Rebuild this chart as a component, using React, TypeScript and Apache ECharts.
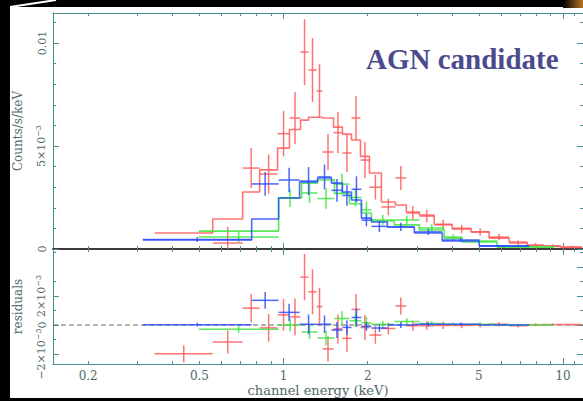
import React, { useEffect, useRef } from 'react';
import * as echarts from 'echarts';

// ---------- axis ranges (x axis is log10 of channel energy in keV) ----------
const X_MIN = -0.825;
const X_MAX = 1.0714;
const UPPER_Y_MAX = 0.01146;
const LOWER_Y_MIN = -0.00269;
const LOWER_Y_MAX = 0.00524;

// ---------- tick definitions ----------
const X_LABEL_VALUES = [0.2, 0.5, 1, 2, 5, 10];
const X_MAJOR_TICKS = [1, 10];
const X_MINOR_TICKS = [0.2, 0.3, 0.4, 0.5, 0.6, 0.7, 0.8, 0.9, 2, 3, 4, 5, 6, 7, 8, 9, 11];

const UPPER_Y_LABEL_VALUES = [0, 0.005, 0.01];
const UPPER_Y_LABEL_TEXT = ['0', '5×10{sup|−3}', '0.01'];
const UPPER_Y_MINOR = [0.001, 0.002, 0.003, 0.004, 0.006, 0.007, 0.008, 0.009, 0.011];

const LOWER_Y_LABEL_VALUES = [-0.002, 0, 0.002, 0.004];
const LOWER_Y_LABEL_TEXT = ['−2×10{sup|−3}', '0', '2×10{sup|−3}', '4×10{sup|−3}'];
const LOWER_Y_MINOR = [-0.001, 0.001, 0.003, 0.005];

// ---------- spectra: bin edges (keV), data, errors, model (counts/s/keV ×1e-3) ----------
const RED_EDGES = [0.346, 0.558, 0.714, 0.821, 0.952, 1.05, 1.15, 1.228, 1.312, 1.378, 1.509, 1.624, 1.75, 1.884, 2.028, 2.239, 2.512, 2.75, 3.06, 3.46, 4.01, 4.69, 5.44, 6.41, 7.44, 8.55, 9.84, 11.7];
const RED_DATA = [-1.2, 0.29, 3.93, 3.64, 5.6, 6.36, 9.56, 8.69, 7.67, 4.71, 5.65, 4.66, 6.36, 4.32, 3.0, 2.04, 3.45, 1.75, 1.6, 1.17, 0.97, 0.83, 0.58, 0.29, 0.19, 0.15, 0.1];
const RED_ERR = [0.59, 0.79, 0.97, 0.95, 1.1, 1.26, 1.6, 1.55, 1.3, 0.87, 1.0, 0.92, 1.07, 0.87, 0.6, 0.4, 0.58, 0.34, 0.3, 0.25, 0.2, 0.18, 0.15, 0.12, 0.1, 0.08, 0.06];
const RED_MODEL = [0.78, 1.46, 2.77, 3.84, 4.9, 5.8, 6.26, 6.4, 6.4, 6.36, 5.92, 5.58, 5.29, 4.5, 3.69, 2.28, 2.14, 1.8, 1.65, 1.2, 1.0, 0.83, 0.53, 0.34, 0.17, 0.12, 0.07];

const GREEN_EDGES = [0.497, 0.96, 1.16, 1.323, 1.521, 1.721, 1.899, 2.062, 2.491, 3.06, 3.758, 4.358, 5.81, 9.29];
const GREEN_DATA = [0.58, 2.48, 2.72, 2.45, 3.15, 2.5, 1.9, 1.41, 1.41, 1.02, 0.58, 0.39, 0.1];
const GREEN_ERR = [0.25, 0.44, 0.49, 0.5, 0.5, 0.45, 0.4, 0.25, 0.22, 0.18, 0.12, 0.08, 0.04];
const GREEN_MODEL = [0.87, 2.48, 3.2, 3.35, 2.7, 2.2, 1.75, 1.36, 1.17, 0.92, 0.53, 0.34, 0.1];

const BLUE_EDGES = [0.3136, 0.769, 0.96, 1.141, 1.323, 1.484, 1.624, 1.75, 1.899, 2.062, 2.352, 2.937, 3.698, 5.012, 7.56];
const BLUE_DATA = [0.46, 3.16, 3.35, 3.3, 3.5, 2.85, 2.6, 2.9, 1.4, 1.1, 1.07, 0.83, 0.44, 0.15];
const BLUE_ERR = [0.12, 0.58, 0.6, 0.68, 0.6, 0.55, 0.5, 0.63, 0.3, 0.27, 0.2, 0.15, 0.1, 0.05];
const BLUE_MODEL = [0.44, 1.46, 2.48, 3.25, 3.45, 3.2, 2.77, 2.38, 1.5, 1.31, 1.07, 0.78, 0.39, 0.15];

const SCALE = 1e-3;

// ---------- styling ----------
const FRAME = '#4a8f8f';
const TEXT = '#4f6868';
const FONT = "'DejaVu Serif', 'Liberation Serif', serif";
const RED = '#ff5a5a';
const GREEN = '#3ee43e';
const BLUE = '#2c4cff';

const lg = (v: number) => Math.log10(v);

function crossData(edges: number[], vals: number[], errs: number[]) {
  return vals.map((v, i) => [lg(edges[i]), lg(edges[i + 1]), v * SCALE, errs[i] * SCALE]);
}
function residualData(edges: number[], vals: number[], errs: number[], model: number[]) {
  return vals.map((v, i) => [lg(edges[i]), lg(edges[i + 1]), (v - model[i]) * SCALE, errs[i] * SCALE]);
}
function stepData(edges: number[], model: number[]) {
  const pts: number[][] = [];
  model.forEach((m, i) => {
    pts.push([lg(edges[i]), m * SCALE]);
    pts.push([lg(edges[i + 1]), m * SCALE]);
  });
  return pts;
}

function crossSeries(color: string, data: number[][], axisIndex: number, z: number) {
  return {
    type: 'custom',
    xAxisIndex: axisIndex,
    yAxisIndex: axisIndex,
    z,
    silent: true,
    data,
    encode: { x: [0, 1], y: 2 },
    renderItem: (params: any, api: any) => {
      const lo = api.value(0);
      const hi = api.value(1);
      const y = api.value(2);
      const e = api.value(3);
      const cs = params.coordSys;
      const top = cs.y;
      const bottom = cs.y + cs.height;
      const a = api.coord([lo, y]);
      const b = api.coord([hi, y]);
      const mid = (lo + hi) / 2;
      const xc = api.coord([mid, y])[0];
      const yt = api.coord([mid, y + e])[1];
      const yb = api.coord([mid, y - e])[1];
      const st = { stroke: color, lineWidth: 1.5, opacity: 0.85 };
      const children: any[] = [];
      if (a[1] >= top && a[1] <= bottom) {
        children.push({ type: 'line', shape: { x1: a[0], y1: a[1], x2: b[0], y2: b[1] }, style: st });
      }
      const y1 = Math.max(top, Math.min(bottom, yt));
      const y2 = Math.max(top, Math.min(bottom, yb));
      if (y2 - y1 > 0.5) {
        children.push({ type: 'line', shape: { x1: xc, y1, x2: xc, y2 }, style: st });
      }
      return { type: 'group', children };
    },
  };
}

function stepSeries(color: string, data: number[][], axisIndex: number, z: number) {
  return {
    type: 'line',
    xAxisIndex: axisIndex,
    yAxisIndex: axisIndex,
    z,
    silent: true,
    symbol: 'none',
    showSymbol: false,
    data,
    lineStyle: { color, width: 1.6, opacity: 0.85 },
  };
}

function makeAxis(
  gridIndex: number,
  position: string,
  min: number,
  max: number,
  ticks: number[],
  tickLen: number,
  line: any,
  label: any,
  extra: any = {}
) {
  return {
    type: 'value',
    gridIndex,
    position,
    min,
    max,
    splitLine: { show: false },
    axisLine: line ? { show: true, onZero: false, lineStyle: line } : { show: false, onZero: false },
    axisTick: { show: true, inside: true, length: tickLen, customValues: ticks, lineStyle: { color: FRAME, width: 1 } },
    axisLabel: label ? label : { show: false },
    ...extra,
  };
}

const frameLine = { color: FRAME, width: 1 };
const darkLine = { color: '#3a3a3a', width: 2 };
const supRich = { sup: { fontSize: 8, fontFamily: FONT, color: TEXT, padding: [0, 0, 6, 0] } };

function labelFormatter(values: number[], texts: string[]) {
  return (v: number) => {
    for (let i = 0; i < values.length; i++) {
      if (Math.abs(values[i] - v) < 1e-9) return texts[i];
    }
    return '';
  };
}

export default function App() {
  const ref = useRef<HTMLDivElement>(null);

  useEffect(() => {
    if (!ref.current) return;
    const chart = echarts.init(ref.current, null, { renderer: 'svg' });

    const xMajor = X_MAJOR_TICKS.map(lg);
    const xMinor = X_MINOR_TICKS.map(lg);

    const xLabel = {
      show: true,
      margin: 6,
      customValues: X_LABEL_VALUES.map(lg),
      formatter: (v: number) => String(Number(Math.pow(10, v).toPrecision(2))),
      fontFamily: FONT,
      fontSize: 12,
      color: TEXT,
    };

    const xAxis = [
      // grid 0 (spectrum)
      makeAxis(0, 'bottom', X_MIN, X_MAX, xMajor, 6, darkLine, null),
      makeAxis(0, 'bottom', X_MIN, X_MAX, xMinor, 3, null, null),
      makeAxis(0, 'top', X_MIN, X_MAX, xMajor, 6, frameLine, null),
      makeAxis(0, 'top', X_MIN, X_MAX, xMinor, 3, null, null),
      // grid 1 (residuals)
      makeAxis(1, 'bottom', X_MIN, X_MAX, xMajor, 6, frameLine, xLabel, {
        name: 'channel energy (keV)',
        nameLocation: 'middle',
        nameGap: 20,
        nameTextStyle: { fontFamily: FONT, fontSize: 13, color: TEXT },
      }),
      makeAxis(1, 'bottom', X_MIN, X_MAX, xMinor, 3, null, null),
      makeAxis(1, 'top', X_MIN, X_MAX, xMajor, 6, null, null),
      makeAxis(1, 'top', X_MIN, X_MAX, xMinor, 3, null, null),
    ];

    const upperLabel = {
      show: true,
      rotate: 90,
      margin: 5,
      customValues: UPPER_Y_LABEL_VALUES,
      formatter: labelFormatter(UPPER_Y_LABEL_VALUES, UPPER_Y_LABEL_TEXT),
      fontFamily: FONT,
      fontSize: 11,
      color: TEXT,
      rich: supRich,
    };
    const lowerLabel = {
      show: true,
      rotate: 90,
      margin: 5,
      customValues: LOWER_Y_LABEL_VALUES,
      formatter: labelFormatter(LOWER_Y_LABEL_VALUES, LOWER_Y_LABEL_TEXT),
      fontFamily: FONT,
      fontSize: 11,
      color: TEXT,
      rich: supRich,
    };

    const yAxis = [
      makeAxis(0, 'left', 0, UPPER_Y_MAX, UPPER_Y_LABEL_VALUES, 6, frameLine, upperLabel, {
        name: 'Counts/s/keV',
        nameLocation: 'middle',
        nameRotate: 90,
        nameGap: 29,
        nameTextStyle: { fontFamily: FONT, fontSize: 12, color: TEXT },
      }),
      makeAxis(0, 'left', 0, UPPER_Y_MAX, UPPER_Y_MINOR, 3, null, null),
      makeAxis(0, 'right', 0, UPPER_Y_MAX, UPPER_Y_LABEL_VALUES, 6, frameLine, null),
      makeAxis(0, 'right', 0, UPPER_Y_MAX, UPPER_Y_MINOR, 3, null, null),
      makeAxis(1, 'left', LOWER_Y_MIN, LOWER_Y_MAX, LOWER_Y_LABEL_VALUES, 6, frameLine, lowerLabel, {
        name: 'residuals',
        nameLocation: 'middle',
        nameRotate: 90,
        nameGap: 29,
        nameTextStyle: { fontFamily: FONT, fontSize: 12, color: TEXT },
      }),
      makeAxis(1, 'left', LOWER_Y_MIN, LOWER_Y_MAX, LOWER_Y_MINOR, 3, null, null),
      makeAxis(1, 'right', LOWER_Y_MIN, LOWER_Y_MAX, LOWER_Y_LABEL_VALUES, 6, frameLine, null),
      makeAxis(1, 'right', LOWER_Y_MIN, LOWER_Y_MAX, LOWER_Y_MINOR, 3, null, null),
    ];

    const series: any[] = [
      // zero line of residual panel
      {
        type: 'line',
        xAxisIndex: 4,
        yAxisIndex: 4,
        z: 1,
        silent: true,
        symbol: 'none',
        data: [[X_MIN, 0], [X_MAX, 0]],
        lineStyle: { color: '#666', width: 1.2, type: [5, 3] },
      },
      // spectrum panel
      stepSeries(RED, stepData(RED_EDGES, RED_MODEL), 0, 2),
      crossSeries(RED, crossData(RED_EDGES, RED_DATA, RED_ERR), 0, 3),
      stepSeries(GREEN, stepData(GREEN_EDGES, GREEN_MODEL), 0, 4),
      crossSeries(GREEN, crossData(GREEN_EDGES, GREEN_DATA, GREEN_ERR), 0, 5),
      stepSeries(BLUE, stepData(BLUE_EDGES, BLUE_MODEL), 0, 6),
      crossSeries(BLUE, crossData(BLUE_EDGES, BLUE_DATA, BLUE_ERR), 0, 7),
      // residual panel
      crossSeries(RED, residualData(RED_EDGES, RED_DATA, RED_ERR, RED_MODEL), 4, 3),
      crossSeries(GREEN, residualData(GREEN_EDGES, GREEN_DATA, GREEN_ERR, GREEN_MODEL), 4, 5),
      crossSeries(BLUE, residualData(BLUE_EDGES, BLUE_DATA, BLUE_ERR, BLUE_MODEL), 4, 7),
    ];

    chart.setOption({
      animation: false,
      backgroundColor: '#ffffff',
      grid: [
        { left: 53, top: 13, width: 531, height: 236, containLabel: false },
        { left: 53, top: 249, width: 531, height: 115, containLabel: false },
      ],
      xAxis,
      yAxis,
      series,
      graphic: [
        { type: 'rect', z: 100, shape: { x: 0, y: 0, width: 10, height: 401 }, style: { fill: '#000' } },
        { type: 'rect', z: 100, shape: { x: 0, y: 0, width: 583, height: 7 }, style: { fill: '#000' } },
        { type: 'rect', z: 100, shape: { x: 0, y: 398, width: 583, height: 3 }, style: { fill: '#000' } },
        { type: 'line', z: 101, shape: { x1: 10, y1: 7, x2: 56, y2: 0 }, style: { stroke: '#ffffff', lineWidth: 2 } },
        {
          type: 'rect',
          z: 101,
          shape: { x: 563, y: 0, width: 20, height: 8 },
          style: {
            fill: new echarts.graphic.LinearGradient(0, 0, 1, 0, [
              { offset: 0, color: '#000000' },
              { offset: 1, color: '#b87420' },
            ]),
          },
        },
        {
          type: 'text',
          z: 102,
          x: 366,
          y: 44,
          style: {
            text: 'AGN candidate',
            font: "bold 29px 'Liberation Serif', 'DejaVu Serif', serif",
            fill: '#4b4b8c',
            textVerticalAlign: 'top',
            verticalAlign: 'top',
          },
        },
      ],
    });

    return () => chart.dispose();
  }, []);

  return (
    <div
      ref={ref}
      style={{ position: 'absolute', left: 0, top: 0, width: 583, height: 401 }}
    />
  );
}
